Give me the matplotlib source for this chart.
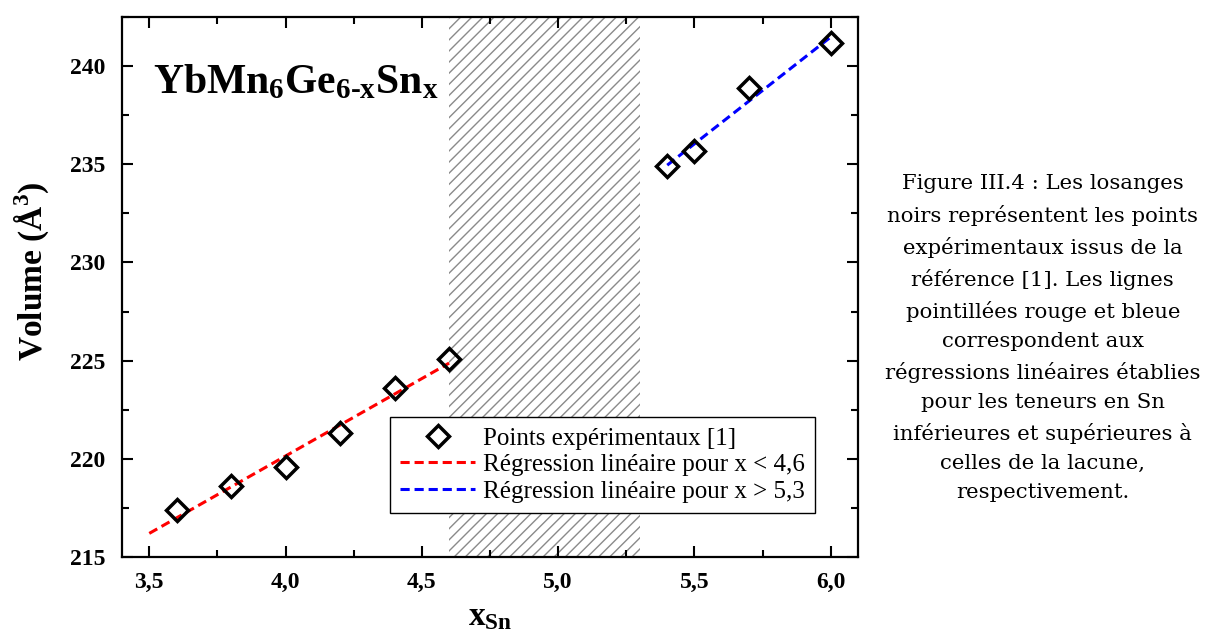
import numpy as np
import matplotlib
matplotlib.use("Agg")
import matplotlib.pyplot as plt
from matplotlib.ticker import MultipleLocator, FormatStrFormatter

plt.rcParams["font.family"] = ["Liberation Serif", "DejaVu Serif"]
plt.rcParams["mathtext.fontset"] = "custom"
plt.rcParams["mathtext.rm"] = "Liberation Serif:bold"
plt.rcParams["mathtext.bf"] = "Liberation Serif:bold"
plt.rcParams["hatch.linewidth"] = 1.0

# data
x_sn = [3.6, 3.8, 4.0, 4.2, 4.4, 4.6, 5.4, 5.5, 5.7, 6.0]
volume = [217.4, 218.6, 219.6, 221.3, 223.6, 225.1, 234.9, 235.7, 238.9, 241.2]
low_x = [3.6, 3.8, 4.0, 4.2, 4.4, 4.6]
low_v = [217.4, 218.6, 219.6, 221.3, 223.6, 225.1]
high_x = [5.4, 5.5, 5.7, 6.0]
high_v = [234.9, 235.7, 238.9, 241.2]
low_range = [3.5, 4.6]
high_range = [5.4, 6.0]
gap = [4.6, 5.3]

caption = ("Figure III.4 : Les losanges\n"
           "noirs représentent les points\n"
           "expérimentaux issus de la\n"
           "référence [1]. Les lignes\n"
           "pointillées rouge et bleue\n"
           "correspondent aux\n"
           "régressions linéaires établies\n"
           "pour les teneurs en Sn\n"
           "inférieures et supérieures à\n"
           "celles de la lacune,\n"
           "respectivement.")

fig = plt.figure(figsize=(12.14, 6.42), dpi=100)
ax = fig.add_axes([0.1005, 0.1324, 0.6063, 0.8411])

ax.axvspan(gap[0], gap[1], facecolor="none", edgecolor="#8a8a8a", lw=0,
           hatch="///", zorder=0)

p_low = np.polyfit(low_x, low_v, 1)
p_high = np.polyfit(high_x, high_v, 1)
ax.plot(low_range, np.polyval(p_low, low_range), color="red", ls="--", lw=2.2,
        dashes=(3, 1.6), label="Régression linéaire pour x < 4,6", zorder=2)
ax.plot(high_range, np.polyval(p_high, high_range), color="blue", ls="--", lw=2.2,
        dashes=(3, 1.6), label="Régression linéaire pour x > 5,3", zorder=2)
ax.plot(x_sn, volume, ls="none", marker="D", ms=11.5, mfc="none", mec="black", mew=2.5,
        label="Points expérimentaux [1]", zorder=3)

ax.set_xlim(3.4, 6.1)
ax.set_ylim(215, 242.5)
ax.xaxis.set_major_locator(MultipleLocator(0.5))
ax.xaxis.set_minor_locator(MultipleLocator(0.25))
ax.yaxis.set_major_locator(MultipleLocator(5))
ax.yaxis.set_minor_locator(MultipleLocator(2.5))
ax.xaxis.set_major_formatter(lambda v, pos: f"{v:.1f}".replace(".", ","))
ax.yaxis.set_major_formatter(FormatStrFormatter("%d"))
ax.tick_params(which="both", direction="in", top=True, right=True, width=1.5)
ax.tick_params(which="major", length=8, labelsize=17)
ax.tick_params(axis="x", which="major", pad=11)
ax.tick_params(axis="y", which="major", pad=12)
ax.tick_params(which="minor", length=5)
for lab in ax.get_xticklabels() + ax.get_yticklabels():
    lab.set_fontweight("bold")
for s in ax.spines.values():
    s.set_linewidth(1.6)

ax.set_xlabel(r"$\mathbf{x_{Sn}}$", fontsize=24, labelpad=6)
ax.set_ylabel(r"Volume (Å$^\mathbf{3}$)", fontsize=24, fontweight="bold")
ax.yaxis.set_label_coords(-0.095, 0.53)

ax.text(0.042, 0.859, r"$\mathbf{YbMn_6Ge_{6\text{-}x}Sn_x}$", transform=ax.transAxes,
        fontsize=30, va="baseline", ha="left")

handles, labels = ax.get_legend_handles_labels()
order = [2, 0, 1]
leg = ax.legend([handles[i] for i in order], [labels[i] for i in order],
                loc="lower right", bbox_to_anchor=(0.958, 0.059), fontsize=18,
                fancybox=False, edgecolor="black", framealpha=1, borderpad=0.4,
                handlelength=3.0, handletextpad=0.3, labelspacing=0.16)
leg.get_frame().set_linewidth(1.0)

fig.text(0.859, 0.473, caption, ha="center", va="center", fontsize=15.3,
         family="DejaVu Serif", linespacing=1.66)

fig.savefig("out.png", dpi=100)
